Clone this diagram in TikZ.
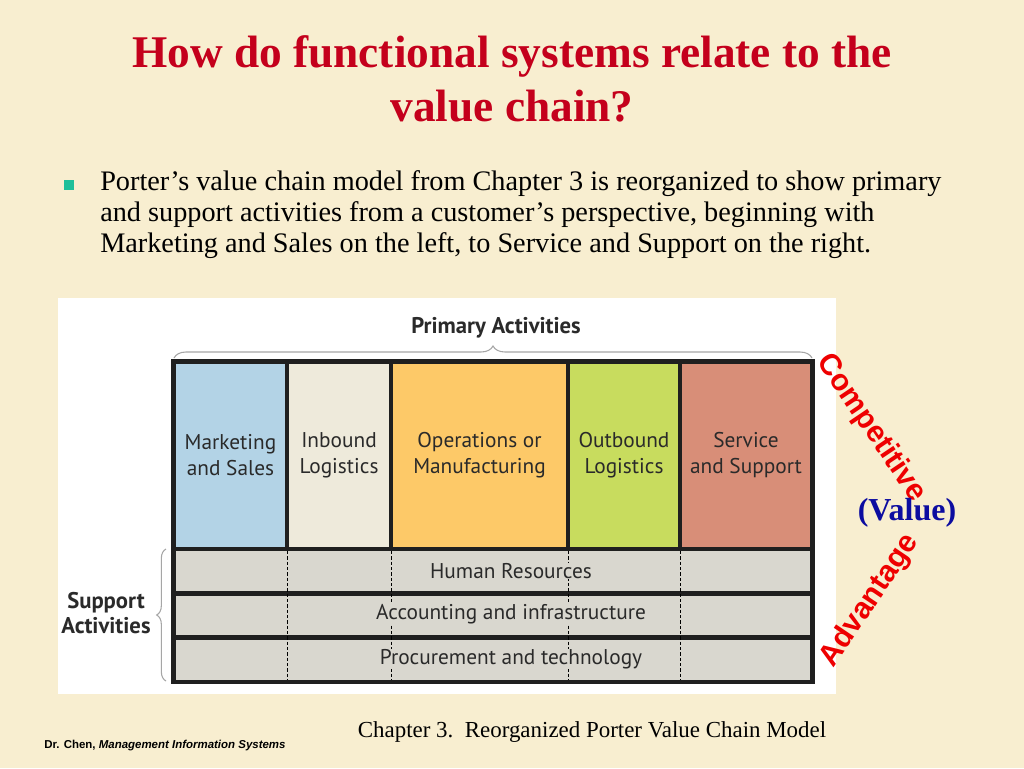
\documentclass[tikz,border=0pt]{standalone}
\usepackage{fontspec}
\setmainfont{Liberation Serif}
\newfontfamily\arialf{Liberation Sans}
\newfontfamily\cellf{PT Sans}
\usetikzlibrary{decorations.pathreplacing}
\definecolor{bg}{HTML}{F8EED0}
\definecolor{titlered}{HTML}{C4001C}
\definecolor{advred}{HTML}{EE0000}
\definecolor{valblue}{HTML}{0C0CA0}
\definecolor{bullet}{HTML}{1FBF9A}
\definecolor{cmkt}{HTML}{B3D3E6}
\definecolor{cinb}{HTML}{EEEADB}
\definecolor{cops}{HTML}{FDC968}
\definecolor{coutb}{HTML}{C8DC5E}
\definecolor{csvc}{HTML}{D88E78}
\definecolor{csup}{HTML}{D9D7CF}
\definecolor{txt}{HTML}{2A2A2A}
\tikzset{
  cell/.style={rectangle, inner sep=0pt, align=center, font=\cellf\fontsize{16}{19.5}\selectfont, text=txt},
  suprow/.style={rectangle, inner sep=0pt, fill=csup, minimum width=634*0.75pt},
  suplabel/.style={inner xsep=0pt, inner ysep=0.5pt, fill=csup, font=\cellf\fontsize{16}{19.5}\selectfont, text=txt},
  dashline/.style={black, line width=0.6pt, dash pattern=on 2.5pt off 1.5pt},
  bracestyle/.style={draw=gray!70, line width=0.8pt, decorate},
  slanted/.style={font=\arialf\bfseries\fontsize{22.5}{24}\selectfont, text=advred, inner sep=0pt}
}
\begin{document}
\begin{tikzpicture}[x=0.75pt,y=-0.75pt]
\useasboundingbox (0,0) rectangle (1024,768);
\fill[bg] (0,0) rectangle (1024,768);
% title
\node[align=center, text=titlered, font=\bfseries\fontsize{34}{40}\selectfont] (title) at (512,79) {How do functional systems relate to the\\value chain?};
% bullet
\node[fill=bullet, minimum size=7.5pt, inner sep=0pt] (bul) at (69,185) {};
\node[anchor=north west, inner sep=0pt, align=left, font=\fontsize{21.2}{23.25}\selectfont] (body) at (100,170)
 {Porter’s value chain model from Chapter 3 is reorganized to show primary\\
  and support activities from a customer’s perspective, beginning with\\
  Marketing and Sales on the left, to Service and Support on the right.};
% white panel
\fill[white] (58,298) rectangle (836,694);
% header
\node[font=\cellf\bfseries\fontsize{17}{19}\selectfont, text=txt] (prim) at (496,328) {Primary Activities};
\coordinate (pbl) at (174,358);
\coordinate (pbr) at (812,358);
\draw[bracestyle, decoration={brace, amplitude=9pt}] (pbl) -- (pbr);
% table frame
\fill[black!88] (171,359) rectangle (815,684);
% primary cells
\node[cell, fill=cmkt, minimum width=109*0.75pt, minimum height=183*0.75pt] (mkt) at (230.5,455.5) {Marketing\\and Sales};
\node[cell, fill=cinb, minimum width=100*0.75pt, minimum height=183*0.75pt] (inb) at (339,455.5) {Inbound\\Logistics};
\node[cell, fill=cops, minimum width=173*0.75pt, minimum height=183*0.75pt] (ops) at (479.5,455.5) {Operations or\\Manufacturing};
\node[cell, fill=coutb, minimum width=108*0.75pt, minimum height=183*0.75pt] (outb) at (624,455.5) {Outbound\\Logistics};
\node[cell, fill=csvc, minimum width=128*0.75pt, minimum height=183*0.75pt] (svc) at (746,455.5) {Service\\and Support};
% support rows
\node[suprow, minimum height=40*0.75pt] (hr) at (493,571) {};
\node[suprow, minimum height=39*0.75pt] (acc) at (493,615.5) {};
\node[suprow, minimum height=40*0.75pt] (proc) at (493,660) {};
% dashed dividers
\foreach \xx in {287,391,568,680} {
  \draw[dashline] (\xx,551) -- (\xx,680);
}
\node[suplabel] (hrl) at (511,571) {Human Resources};
\node[suplabel] (accl) at (511,614) {Accounting and infrastructure};
\node[suplabel] (procl) at (511,659) {Procurement and technology};
% support brace
\coordinate (sbb) at (166,681);
\coordinate (sbt) at (166,549);
\draw[bracestyle, decoration={brace, amplitude=7pt}] (sbb) -- (sbt);
\node[align=center, font=\cellf\bfseries\fontsize{17}{19}\selectfont, text=txt] (supl) at (106,613) {Support\\Activities};
% competitive advantage
\node[slanted, rotate=-56] (comp) at (871,428) {Competitive};
\node[slanted, rotate=56] (adv) at (870,601) {Advantage};
\node[font=\bfseries\fontsize{24}{26}\selectfont, text=valblue] (val) at (907,513) {(Value)};
% caption
\node[font=\fontsize{17.2}{19}\selectfont] (cap) at (592,732) {Chapter 3.\ \ Reorganized Porter Value Chain Model};
% footer
\node[anchor=west, inner sep=0pt, font=\arialf\bfseries\fontsize{8.6}{10}\selectfont] (foot) at (44,746) {Dr. Chen, \textit{Management Information Systems}};
\end{tikzpicture}
\end{document}
